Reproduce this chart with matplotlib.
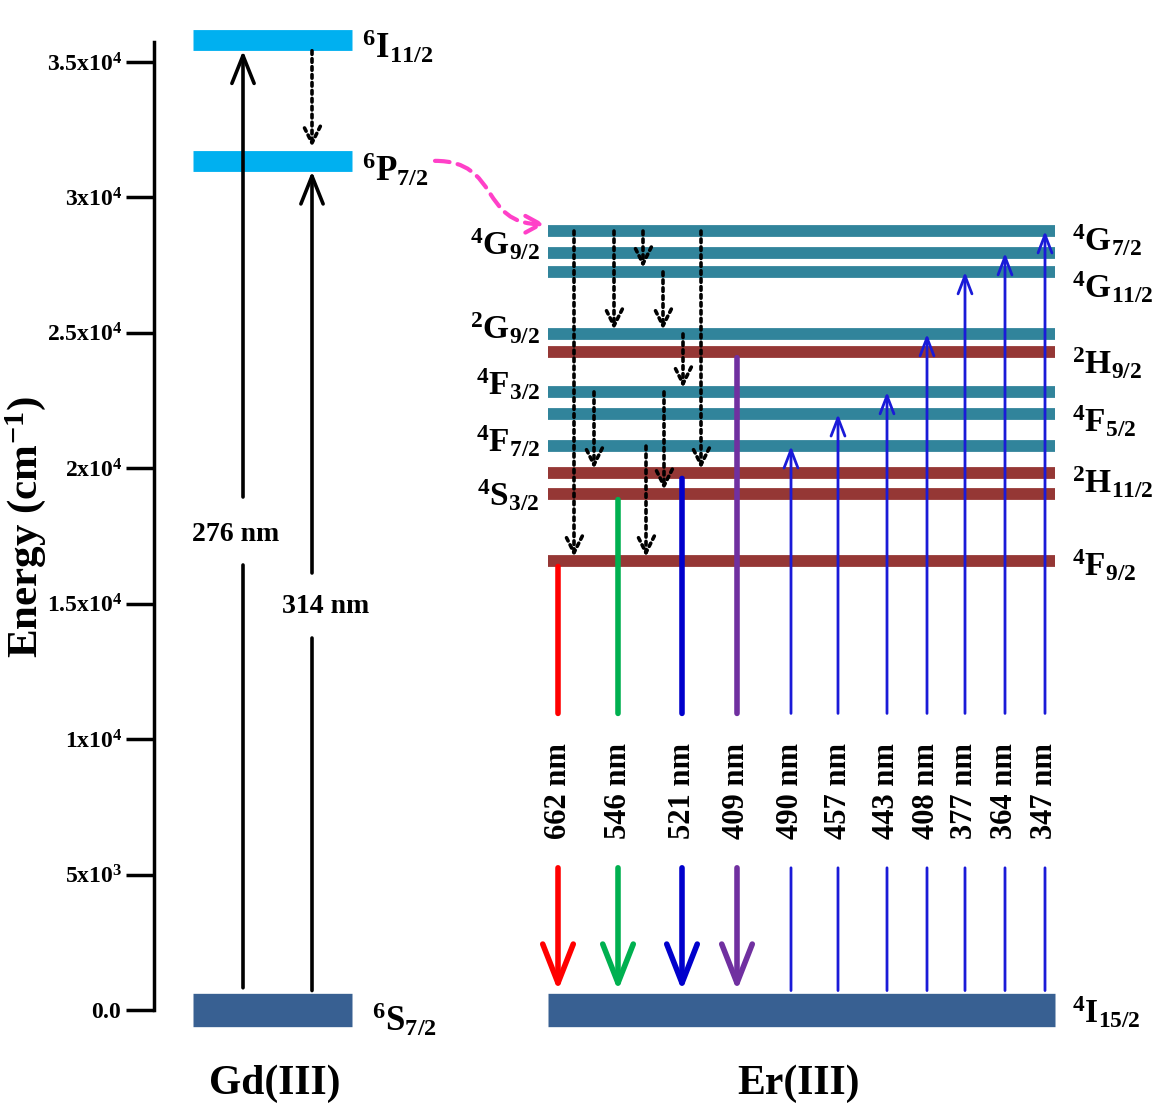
import matplotlib
matplotlib.use('Agg')
from matplotlib import pyplot as plt
from matplotlib.patches import FancyArrowPatch, ArrowStyle
from matplotlib.path import Path

plt.rcParams['font.family'] = ['Liberation Serif', 'DejaVu Serif']
plt.rcParams['font.weight'] = 'bold'
plt.rcParams['axes.labelweight'] = 'bold'
plt.rcParams['mathtext.fontset'] = 'custom'
plt.rcParams['mathtext.rm'] = 'Liberation Serif:bold'
plt.rcParams['mathtext.it'] = 'Liberation Serif:bold'
plt.rcParams['mathtext.bf'] = 'Liberation Serif:bold'

# --- data: level energies (cm^-1) ---
gd_names = ['6S7/2', '6P7/2', '6I11/2']
gd_energy = [0, 31350, 35800]

er_names = ['4I15/2', '4F9/2', '4S3/2', '2H11/2', '4F7/2', '4F5/2', '4F3/2',
            '2H9/2', '2G9/2', '4G11/2', '4G9/2', '4G7/2']
er_energy = [0, 16580, 19050, 19830, 20820, 22000, 22820,
             24290, 24960, 27250, 27950, 28760]

# Gd(III) excitation
gd_exc_nm = [276, 314]
gd_exc_to = ['6I11/2', '6P7/2']

# Er(III) emission (down to ground)
emis_nm = [662, 546, 521, 409]
emis_from = ['4F9/2', '4S3/2', '2H11/2', '2H9/2']

# Er(III) excitation (up from ground)
abs_nm = [490, 457, 443, 408, 377, 364, 347]
abs_to = ['4F7/2', '4F5/2', '4F3/2', '2G9/2', '4G11/2', '4G9/2', '4G7/2']

# non-radiative relaxation
relax_from = ['4G7/2', '4G7/2', '4G7/2', '4G11/2', '2G9/2', '4F3/2', '4G7/2', '4F3/2', '4F7/2']
relax_to = ['4F9/2', '2G9/2', '4G11/2', '2G9/2', '4F3/2', '2H11/2', '2H11/2', '4S3/2', '4F9/2']

ticks = [0, 5000, 10000, 15000, 20000, 25000, 30000, 35000]
tick_labels = ['0.0', '5x10^{3}', '1x10^{4}', '1.5x10^{4}', '2x10^{4}',
               '2.5x10^{4}', '3x10^{4}', '3.5x10^{4}']

# --- layout ---
GD_X = (193, 352)
ER_X = (548, 1055)
gd_exc_x = [243, 312]
emis_x = [558, 618, 682, 737]
abs_x = [791, 838, 887, 927, 965, 1005, 1045]
relax_x = [574, 614, 643, 663, 683, 594, 701, 664, 646]
ER_GAP = (5250, 10950)          # break in Er lines for the wavelength labels
gd_gaps = [(16430, 18940), (13734, 16134)]
gd_lab_pos = [(236, 17537), (326, 14880)]

red_levels = ['4F9/2', '4S3/2', '2H11/2', '2H9/2']
left_labels = {'4G9/2': 6, '2G9/2': 4, '4F3/2': 5, '4F7/2': 3, '4S3/2': -1}
right_labels = {'4G7/2': -6.5, '4G11/2': -11, '2H9/2': -8, '4F5/2': -5,
                '2H11/2': -7, '4F9/2': -3.5, '4I15/2': -2}
gd_label_dy = {'6S7/2': -7, '6P7/2': -6.5, '6I11/2': -5}

gd_E = dict(zip(gd_names, gd_energy))
er_E = dict(zip(er_names, er_energy))
DOTS = (0, (1, 1.2))


def term(name):
    sup, letter, sub = name[0], name[1], name[2:]
    return r'$\mathrm{^{%s}%s_{%s}}$' % (sup, letter, sub)


fig = plt.figure(figsize=(11.53, 11.09), dpi=100)
ax = fig.add_axes([154 / 1153, 0, 999 / 1153, 1])
ax.set_xlim(154, 1153)
ax.set_ylim(-3655, 37289)


def arrow(x, e0, e1, color, lw, hl=0, hw=0, sA=0, sB=0, ls='-', z=4):
    style = ArrowStyle('->', head_length=hl, head_width=hw) if hl else ArrowStyle('-')
    p = FancyArrowPatch((x, e0), (x, e1), arrowstyle=style, mutation_scale=1,
                        color=color, lw=lw, linestyle=ls, shrinkA=sA, shrinkB=sB,
                        zorder=z)
    ax.add_patch(p)


# levels
ax.hlines(gd_energy[0], *GD_X, colors='#386092', lw=24, capstyle='butt', zorder=2)
ax.hlines(gd_energy[1:], *GD_X, colors='#00B0F0', lw=15, capstyle='butt', zorder=2)
ax.hlines(er_energy[0], *ER_X, colors='#386092', lw=24, capstyle='butt', zorder=2)
for n, e in zip(er_names[1:], er_energy[1:]):
    c = '#953735' if n in red_levels else '#31849B'
    ax.hlines(e, *ER_X, colors=c, lw=8.5, capstyle='butt', zorder=2)

# Gd excitation arrows
for x, nm, to, (g0, g1), (tx, ty), sA in zip(gd_exc_x, gd_exc_nm, gd_exc_to,
                                             gd_gaps, gd_lab_pos, [16, 14]):
    arrow(x, 0, g0, 'black', 2.6, sA=sA)
    arrow(x, g1, gd_E[to], 'black', 2.6, hl=20, hw=8, sB=7.5)
    ax.text(tx, ty, f'{nm} nm', fontsize=20, ha='center', va='center')
arrow(gd_exc_x[1], gd_E['6I11/2'], gd_E['6P7/2'], 'black', 2.6, hl=12, hw=6,
      sA=7.5, sB=10, ls=DOTS)

# Er emission
for x, nm, src, c in zip(emis_x, emis_nm, emis_from,
                         ['#FF0000', '#00B050', '#0000CC', '#7030A0']):
    arrow(x, er_E[src], ER_GAP[1], c, 4, sA=4)
    arrow(x, ER_GAP[0], 0, c, 4, hl=28, hw=11, sB=14)
    ax.text(x, sum(ER_GAP) / 2, f'{nm} nm', rotation=90, fontsize=22,
            ha='center', va='center')

# Er excitation
for x, nm, to in zip(abs_x, abs_nm, abs_to):
    arrow(x, 0, ER_GAP[0], '#1a1ad8', 2, sA=14)
    arrow(x, ER_GAP[1], er_E[to], '#1a1ad8', 2, hl=13, hw=5)
    ax.text(x, sum(ER_GAP) / 2, f'{nm} nm', rotation=90, fontsize=22,
            ha='center', va='center')

# non-radiative relaxation
for x, a, b in zip(relax_x, relax_from, relax_to):
    arrow(x, er_E[a], er_E[b], 'black', 2.6, hl=12, hw=6, sB=3, ls=DOTS, z=5)

# energy transfer Gd -> Er
x0, x1 = 435, 545
e0, e1 = gd_E['6P7/2'], er_E['4G7/2'] + 250
dx = x1 - x0
path = Path([(x0, e0), (x0 + 0.6 * dx, e0), (x0 + 0.4 * dx, e1), (x1, e1)],
            [Path.MOVETO, Path.CURVE4, Path.CURVE4, Path.CURVE4])
ax.add_patch(FancyArrowPatch(path=path, arrowstyle=ArrowStyle('->', head_length=11, head_width=6),
                             mutation_scale=1, color='#FF40C8', lw=3,
                             linestyle=(0, (3.5, 2)), zorder=4))

# term labels
for n, dy in left_labels.items():
    ax.annotate(term(n), xy=(540, er_E[n]), xytext=(0, dy), textcoords='offset points',
                ha='right', va='center', fontsize=24)
for n, dy in right_labels.items():
    ax.annotate(term(n), xy=(1072, er_E[n]), xytext=(0, dy), textcoords='offset points',
                ha='left', va='center', fontsize=24)
for n, dy in gd_label_dy.items():
    gx = 372 if n == '6S7/2' else 362
    ax.annotate(term(n), xy=(gx, gd_E[n]), xytext=(0, dy), textcoords='offset points',
                ha='left', va='center', fontsize=25)

ax.text(sum(GD_X) / 2 + 2, 0.023, 'Gd(III)', transform=ax.get_xaxis_transform(),
        fontsize=30, ha='center', va='center')
ax.text(798, 0.023, 'Er(III)', transform=ax.get_xaxis_transform(),
        fontsize=30, ha='center', va='center')

# energy axis
for s in ['top', 'right', 'bottom']:
    ax.spines[s].set_visible(False)
ax.spines['left'].set_bounds(0, 35740)
ax.spines['left'].set_linewidth(2.5)
ax.set_xticks([])
ax.set_yticks(ticks)
ax.set_yticklabels([r'$\mathrm{%s}$' % t for t in tick_labels], fontsize=17)
ax.tick_params(axis='y', length=20, width=2.5, pad=3)
ax.set_ylabel(r'Energy (cm$^{\mathbf{-1}}$)', fontsize=31, fontweight='bold')
ax.yaxis.set_label_coords(-0.106, 0.525)

fig.savefig('out.png', dpi=100)
